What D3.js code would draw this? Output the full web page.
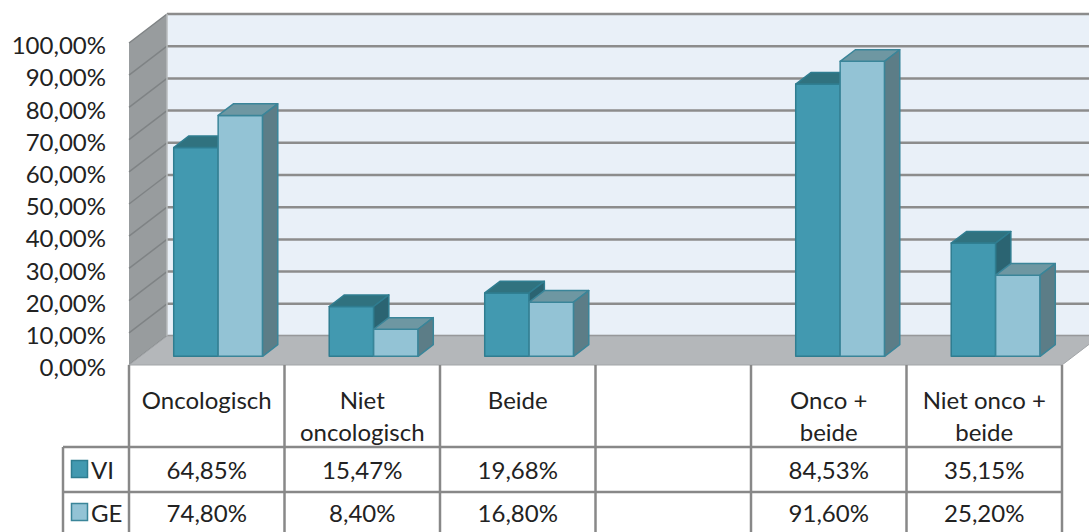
<!DOCTYPE html>
<html>
<head>
<meta charset="utf-8">
<script src="https://cdn.jsdelivr.net/npm/d3@7"></script>
<style>
  body { margin: 0; background: #fff; }
  text { font-family: Lato, "Open Sans", sans-serif; fill: #222; }
</style>
</head>
<body>
<div id="chart"></div>
<script>
const w = 1089;
const h = 532;

// data
const categories = ["Oncologisch", "Niet\noncologisch", "Beide", "", "Onco +\nbeide", "Niet onco +\nbeide"];
const seriesNames = ["VI", "GE"];
const valuesVI = [0.6485, 0.1547, 0.1968, null, 0.8453, 0.3515];
const valuesGE = [0.748, 0.084, 0.168, null, 0.916, 0.252];
const yTicks = [0, 0.1, 0.2, 0.3, 0.4, 0.5, 0.6, 0.7, 0.8, 0.9, 1];

const colors = {
  VI: { front: "#4299b0", top: "#30727f", side: "#2b6472", stroke: "#2f7d90" },
  GE: { front: "#93c3d5", top: "#6e97a2", side: "#5c7d87", stroke: "#3a8599" }
};

const nl = d3.formatLocale({ decimal: ",", thousands: ".", grouping: [3], currency: ["€", ""] });
const pct = nl.format(".2%");

// 3d projection: depth offset for z in [0,1]
const DX = 38, DY = -29;
const left = 129, right = 1062;

const x = d3.scaleBand().domain(d3.range(categories.length)).range([left, right]);
const xs = d3.scaleBand().domain(seriesNames).range([0, x.bandwidth()]).paddingOuter(0.75);
const y = d3.scaleLinear().domain([0, 1]).range([365, 43]);

const svg = d3.select("#chart").append("svg").attr("width", w).attr("height", h);

const line = (pts) => "M" + pts.map((p) => p.join(",")).join("L") + "Z";

// back wall
svg.append("path")
  .attr("d", line([[left + DX, y(0) + DY], [right + DX + 20, y(0) + DY], [right + DX + 20, y(1) + DY], [left + DX, y(1) + DY]]))
  .attr("fill", "#e9f0f8");
// side wall
svg.append("path")
  .attr("d", line([[left, y(0)], [left + DX, y(0) + DY], [left + DX, y(1) + DY], [left, y(1)]]))
  .attr("fill", "#989c9e");

// gridlines
const grid = svg.append("g");
grid.selectAll("line.back")
  .data(yTicks)
  .enter()
  .append("line")
  .attr("class", "back")
  .attr("x1", left + DX)
  .attr("x2", w)
  .attr("y1", (d) => y(d) + DY)
  .attr("y2", (d) => y(d) + DY)
  .attr("stroke", "#8c8c8c")
  .attr("stroke-width", 2.5);
grid.selectAll("line.side")
  .data(yTicks)
  .enter()
  .append("line")
  .attr("class", "side")
  .attr("x1", left)
  .attr("x2", left + DX)
  .attr("y1", (d) => y(d))
  .attr("y2", (d) => y(d) + DY)
  .attr("stroke", "#7f8385")
  .attr("stroke-width", 1.5);
svg.append("line")
  .attr("x1", left + DX).attr("x2", left + DX)
  .attr("y1", y(0) + DY).attr("y2", y(1) + DY)
  .attr("stroke", "#b8bcbe").attr("stroke-width", 1.5);

// floor
svg.append("path")
  .attr("d", line([[left, y(0)], [right, y(0)], [right + DX, y(0) + DY], [left + DX, y(0) + DY]]))
  .attr("fill", "#b4b7ba")
  .attr("stroke", "#a2a5a8")
  .attr("stroke-width", 1);

// bars
const z0 = 0.3, z1 = 0.7;
const bdx = (z1 - z0) * DX, bdy = (z1 - z0) * DY;
const bars = svg.append("g");
categories.forEach((c, i) => {
  [valuesVI[i], valuesGE[i]].forEach((v, s) => {
    if (v == null) return;
    const name = seriesNames[s];
    const col = colors[name];
    const bx0 = x(i) + xs(name) + z0 * DX;
    const bx1 = bx0 + xs.bandwidth();
    const yb = y(0) + z0 * DY;
    const yt = y(v) + z0 * DY;
    const g = bars.append("g")
      .attr("stroke", col.stroke)
      .attr("stroke-width", 1.5)
      .attr("stroke-linejoin", "round");
    g.append("path").attr("d", line([[bx0, yb], [bx1, yb], [bx1, yt], [bx0, yt]])).attr("fill", col.front);
    g.append("path").attr("d", line([[bx0, yt], [bx0 + bdx, yt + bdy], [bx1 + bdx, yt + bdy], [bx1, yt]])).attr("fill", col.top);
    g.append("path").attr("d", line([[bx1, yt], [bx1 + bdx, yt + bdy], [bx1 + bdx, yb + bdy], [bx1, yb]])).attr("fill", col.side);
  });
});

// y axis labels
const yAxis = d3.axisLeft(y).tickValues(yTicks).tickSize(0).tickPadding(0).tickFormat(pct);
const ax = svg.append("g").attr("transform", "translate(106, 3)").call(yAxis);
ax.select(".domain").remove();
ax.selectAll("text").attr("font-size", 24).attr("font-family", "Lato, 'Open Sans', sans-serif").attr("fill", "#222");

// data table
const rowTop = 365, headBot = 447, row1Bot = 492, row2Bot = 540;
const legLeft = 63;
const table = svg.append("g").attr("stroke", "#888").attr("stroke-width", 2.5);
table.selectAll("line.v")
  .data(d3.range(categories.length + 1))
  .enter()
  .append("line")
  .attr("x1", (d) => (d < categories.length ? x(d) : right))
  .attr("x2", (d) => (d < categories.length ? x(d) : right))
  .attr("y1", rowTop)
  .attr("y2", row2Bot);
table.selectAll("line.h")
  .data([headBot, row1Bot])
  .enter()
  .append("line")
  .attr("x1", legLeft)
  .attr("x2", right)
  .attr("y1", (d) => d)
  .attr("y2", (d) => d);
table.append("line").attr("x1", legLeft).attr("x2", legLeft).attr("y1", headBot).attr("y2", row2Bot);

// header labels
categories.forEach((c, i) => {
  const lines = c ? c.split("\n") : [];
  const t = svg.append("text")
    .attr("x", x(i) + x.bandwidth() / 2)
    .attr("y", 409)
    .attr("text-anchor", "middle")
    .attr("font-size", 24);
  lines.forEach((l, k) => {
    t.append("tspan").attr("x", x(i) + x.bandwidth() / 2).attr("dy", k === 0 ? 0 : 31.5).text(l);
  });
});

// value rows
const rows = [
  { name: "VI", values: valuesVI, cy: 470 },
  { name: "GE", values: valuesGE, cy: 513 }
];
rows.forEach((r) => {
  svg.append("rect")
    .attr("x", 71.5).attr("y", r.cy - 9.5)
    .attr("width", 16).attr("height", 17)
    .attr("fill", colors[r.name].front)
    .attr("stroke", colors[r.name].stroke)
    .attr("stroke-width", 1.5);
  svg.append("text")
    .attr("x", 91).attr("y", r.cy + 8.5)
    .attr("font-size", 24)
    .text(r.name);
  svg.selectAll(null)
    .data(r.values)
    .enter()
    .append("text")
    .attr("x", (d, i) => x(i) + x.bandwidth() / 2)
    .attr("y", r.cy + 8.5)
    .attr("text-anchor", "middle")
    .attr("font-size", 24)
    .text((d) => (d == null ? "" : pct(d)));
});
</script>
</body>
</html>
